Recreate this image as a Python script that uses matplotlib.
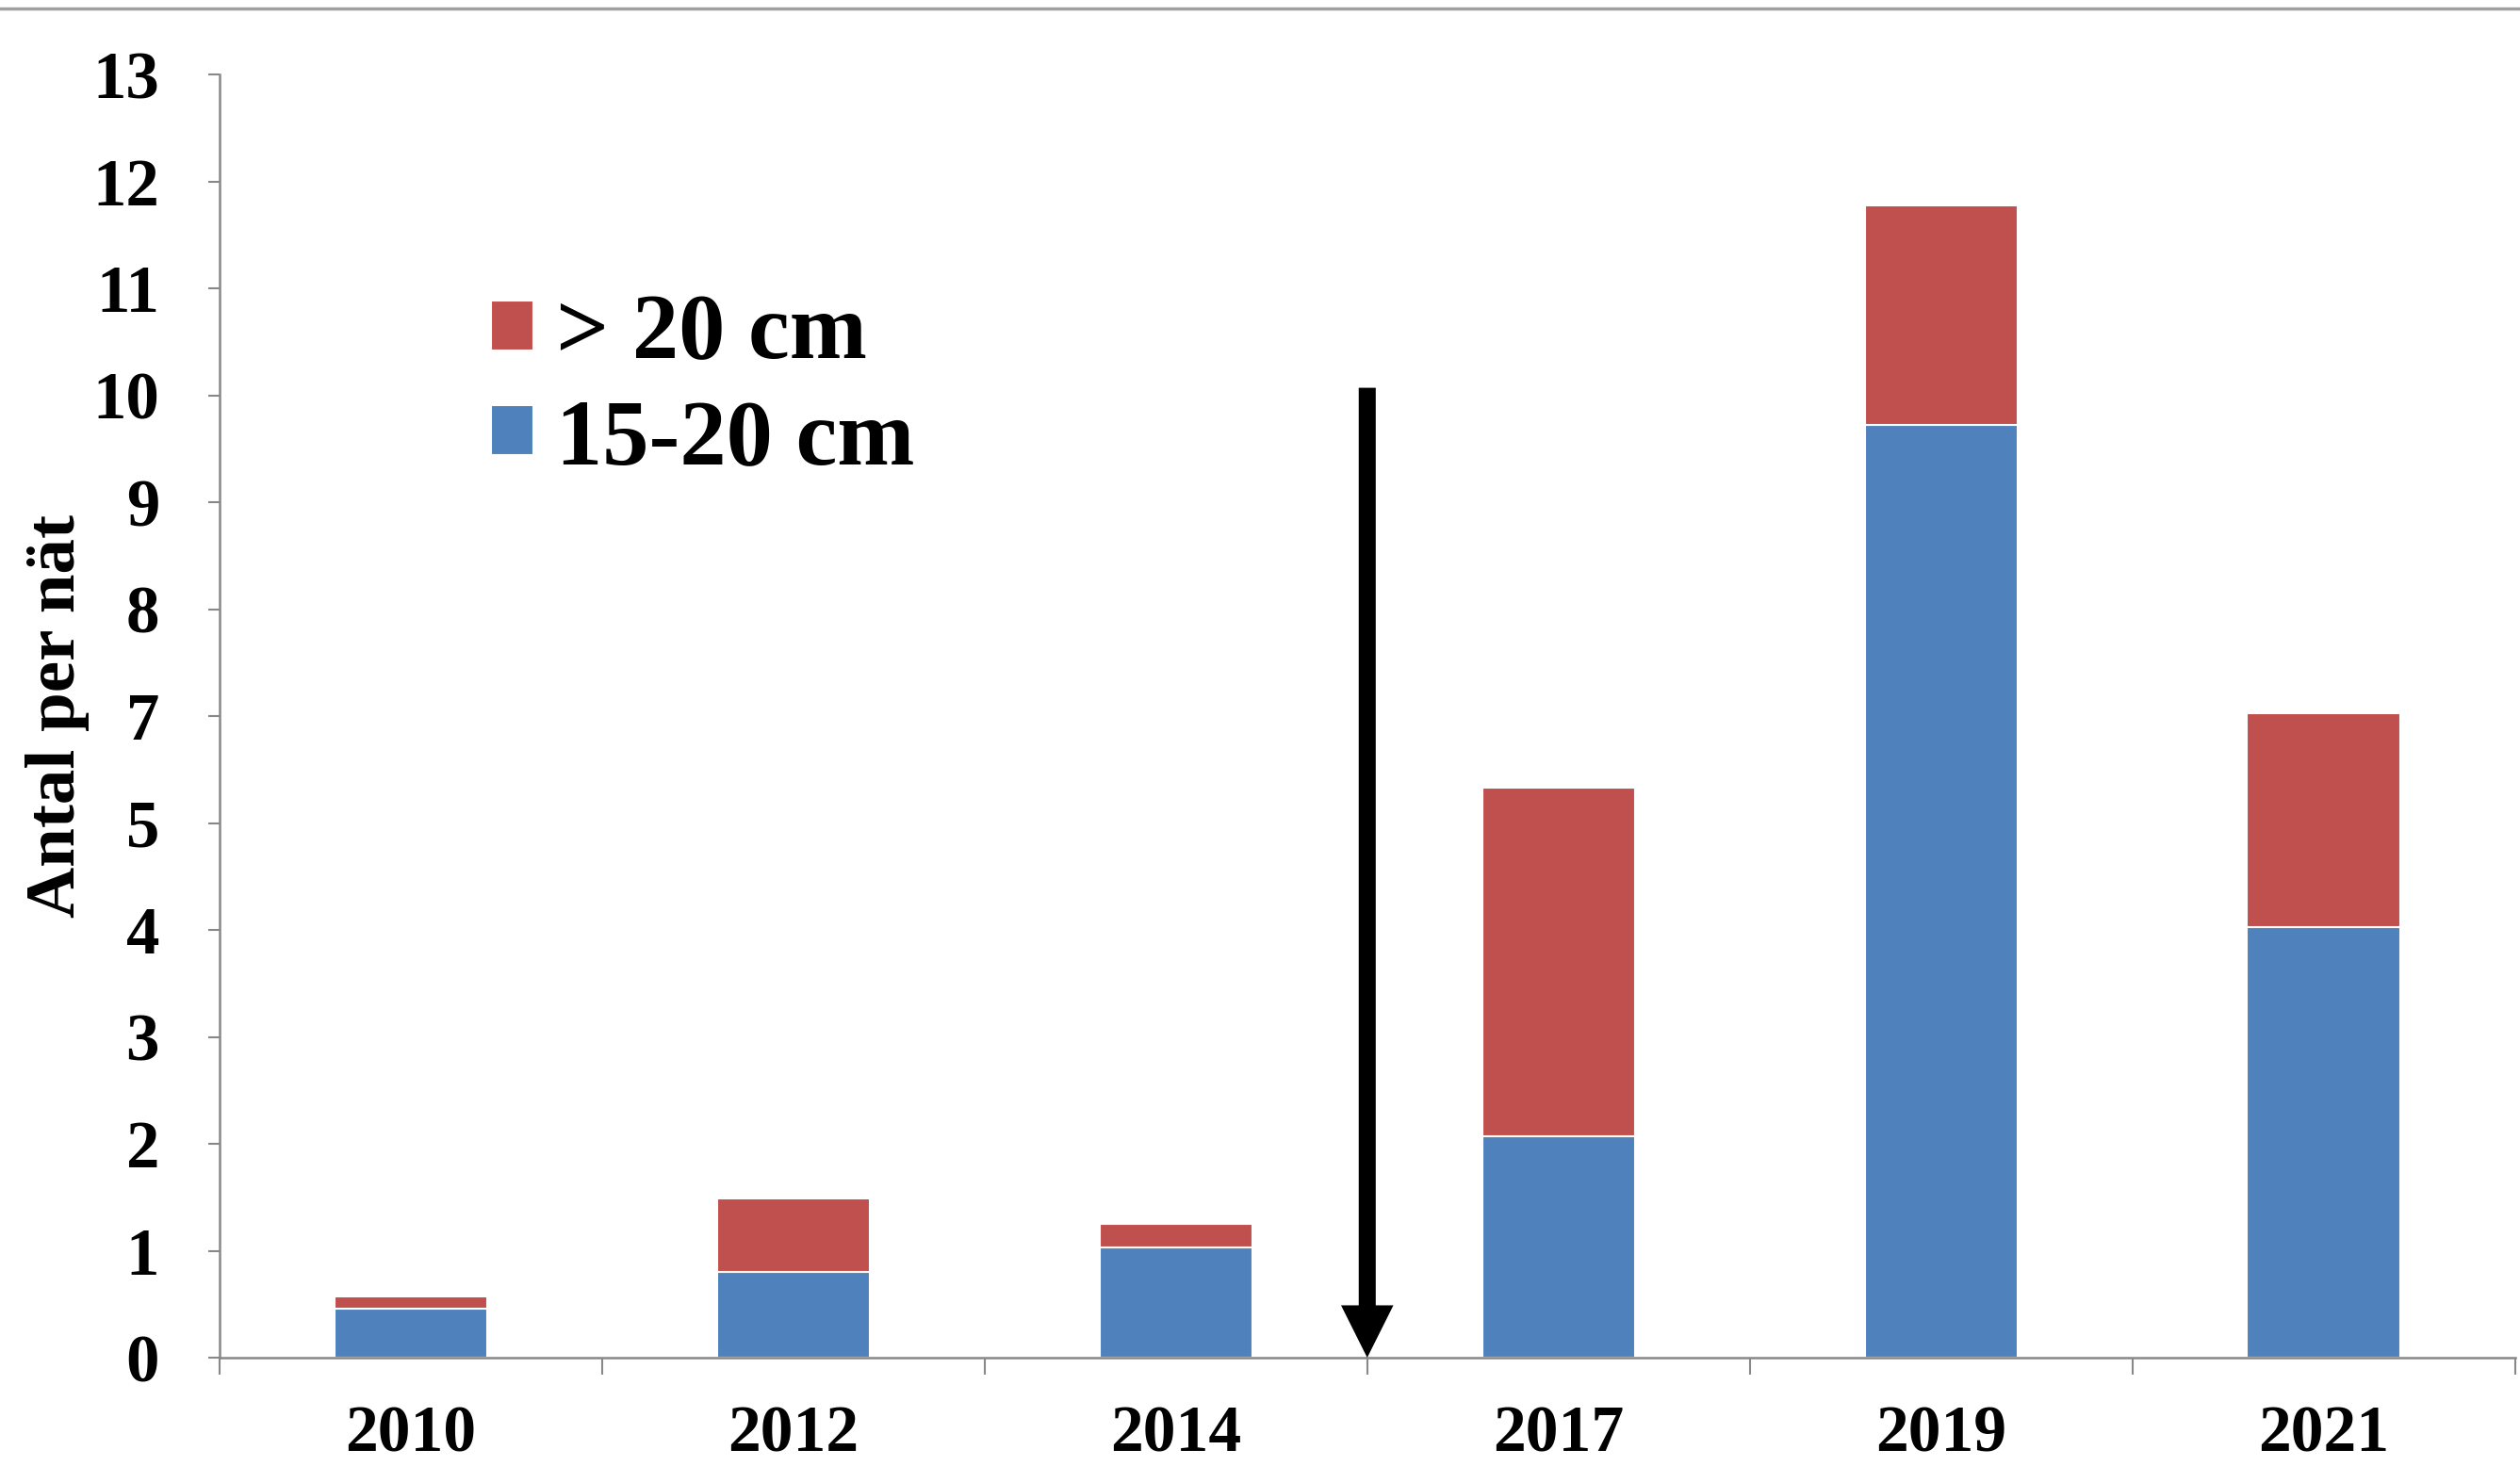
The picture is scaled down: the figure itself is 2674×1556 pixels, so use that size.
import numpy as np
import matplotlib
matplotlib.use("Agg")
import matplotlib.pyplot as plt
from matplotlib.lines import Line2D

# data (axis positions, 0..12)
years = ["2010", "2012", "2014", "2017", "2019", "2021"]
small = [0.46, 0.80, 1.03, 2.07, 8.72, 4.03]    # 15-20 cm
large = [0.11, 0.69, 0.22, 3.26, 2.06, 2.00]    # > 20 cm
ytick_labels = ["0", "1", "2", "3", "4", "5", "7", "8", "9", "10", "11", "12", "13"]
arrow_x = 2.5
arrow_top = 9.07

blue = "#4F81BD"
red = "#C0504D"
grey = "#888888"

plt.rcParams["font.family"] = ["Liberation Serif", "DejaVu Serif"]
plt.rcParams["font.weight"] = "bold"

fig = plt.figure(figsize=(26.74, 15.56), dpi=100)
ax = fig.add_axes([0.0871, 0.0739, 0.9109, 0.8753])

x = np.arange(len(years))
ax.bar(x, small, width=0.4, color=blue, edgecolor="white", linewidth=1.5,
       label="15-20 cm", zorder=2)
ax.bar(x, large, width=0.4, bottom=small, color=red, edgecolor="white",
       linewidth=1.5, label="> 20 cm", zorder=2)

ax.annotate("", xy=(arrow_x, 0), xytext=(arrow_x, arrow_top),
            arrowprops=dict(facecolor="black", edgecolor="none", width=13,
                            headwidth=40, headlength=40, shrink=0),
            zorder=3)

ax.set_xlim(-0.5, len(years) - 0.5)
ax.set_ylim(0, 12)
ax.set_yticks(np.arange(13))
ax.set_yticklabels(ytick_labels)
ax.set_xticks(x)
ax.set_xticklabels(years)
ax.set_xticks(np.arange(-0.5, len(years)), minor=True)

for s in ["top", "right"]:
    ax.spines[s].set_visible(False)
for s in ["left", "bottom"]:
    ax.spines[s].set_color(grey)
    ax.spines[s].set_linewidth(1.8)

ax.tick_params(axis="y", length=9, width=1.5, color=grey, pad=37,
               labelsize=51)
ax.tick_params(axis="x", which="major", length=0, pad=36, labelsize=50)
ax.tick_params(axis="x", which="minor", length=13, width=1.5, color=grey)

ax.set_ylabel("Antal per nät", fontsize=54, fontweight="bold", labelpad=2)

h, l = ax.get_legend_handles_labels()
ax.legend(h[::-1], l[::-1], loc="upper left", bbox_to_anchor=(0.195, 0.80),
          bbox_transform=fig.transFigure, frameon=False, fontsize=71,
          handlelength=0.45, handleheight=0.45, handletextpad=0.25,
          labelspacing=0.22, borderpad=0, borderaxespad=0)

fig.add_artist(Line2D([0, 1], [0.9945, 0.9945], transform=fig.transFigure,
                      color="#a0a0a0", linewidth=2.5))

fig.savefig("out.png", dpi=100, facecolor="white")
